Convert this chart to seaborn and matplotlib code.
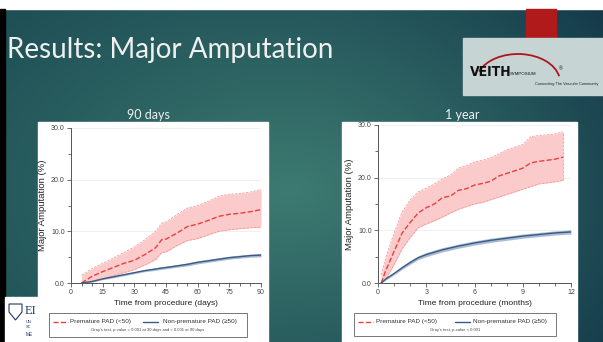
import numpy as np
import pandas as pd
import matplotlib
matplotlib.use("Agg")
import matplotlib.pyplot as plt
import seaborn as sns
from matplotlib.patches import Rectangle, Polygon, Arc
from matplotlib.lines import Line2D
from matplotlib.ticker import MultipleLocator, FormatStrFormatter

# ---------------- data ----------------
t90 = [5, 10, 15, 20, 25, 30, 35, 40, 43, 45, 50, 55, 60, 65, 70, 75, 80, 85, 90]
prem90 = [0, 1.3, 2.2, 3.0, 3.8, 4.4, 5.5, 6.8, 8.4, 8.5, 9.6, 10.9, 11.4, 12.1, 12.9, 13.3, 13.5, 13.8, 14.2]
prem90_hi = [1.5, 2.8, 3.8, 4.8, 5.9, 7.0, 8.4, 10.0, 11.6, 11.8, 13.2, 14.5, 15.0, 15.8, 16.8, 17.2, 17.3, 17.6, 18.1]
prem90_lo = [0, 0.3, 0.8, 1.4, 2.0, 2.6, 3.5, 4.5, 5.9, 6.0, 7.2, 8.2, 8.6, 9.3, 10.0, 10.3, 10.5, 10.7, 10.8]
non90 = [0, 0.3, 0.8, 1.2, 1.6, 2.0, 2.4, 2.7, 2.9, 3.0, 3.3, 3.6, 4.0, 4.3, 4.6, 4.9, 5.1, 5.3, 5.4]
non90_hi = [0.1, 0.45, 0.95, 1.4, 1.8, 2.2, 2.6, 2.95, 3.15, 3.25, 3.55, 3.9, 4.3, 4.6, 4.9, 5.2, 5.4, 5.6, 5.75]
non90_lo = [0, 0.15, 0.65, 1.0, 1.4, 1.8, 2.2, 2.45, 2.65, 2.75, 3.05, 3.3, 3.7, 4.0, 4.3, 4.6, 4.8, 5.0, 5.05]

t12 = [0.2, 0.5, 1, 1.5, 2, 2.5, 3, 3.5, 4, 4.5, 5, 5.5, 6, 6.5, 7, 7.5, 8, 8.5, 9, 9.5, 10, 11, 11.5]
prem12 = [0, 2.5, 6, 9.5, 11.5, 13.3, 14.3, 15, 16.2, 16.5, 17.6, 17.9, 18.6, 18.9, 19.3, 20.3, 20.8, 21.3, 21.8, 22.8, 23.1, 23.5, 23.9]
prem12_hi = [1.5, 5, 9.5, 13.5, 15.8, 17.3, 18, 18.8, 19.8, 20.5, 21.8, 22.3, 23, 23.3, 23.8, 24.5, 25.3, 25.8, 26.3, 27.8, 28, 28.3, 28.7]
prem12_lo = [0, 0.8, 3.5, 6.5, 8.6, 10.5, 11.2, 11.8, 12.5, 13.3, 14, 14.5, 15, 15.3, 15.8, 16.3, 16.8, 17.3, 17.8, 18.3, 18.8, 19.2, 19.5]
t12b = [0.2, 0.5, 1, 1.5, 2, 2.5, 3, 4, 5, 6, 7, 8, 9, 10, 11, 12]
non12 = [0, 0.8, 1.8, 2.9, 3.9, 4.8, 5.4, 6.3, 7.0, 7.6, 8.1, 8.5, 8.9, 9.2, 9.5, 9.7]
non12_hi = [0.1, 1.0, 2.05, 3.2, 4.25, 5.15, 5.8, 6.7, 7.4, 8.0, 8.5, 8.9, 9.3, 9.6, 9.9, 10.1]
non12_lo = [0, 0.6, 1.55, 2.6, 3.55, 4.45, 5.0, 5.9, 6.6, 7.2, 7.7, 8.1, 8.5, 8.8, 9.1, 9.3]

title_text = "Results: Major Amputation"
sub_left = "90 days"
sub_right = "1 year"
label_prem = "Premature PAD (<50)"
label_non = "Non-premature PAD (\u226550)"
pval_left = "Gray's test, p-value = 0.001 at 30 days and < 0.001 at 90 days"
pval_right = "Gray's test, p-value < 0.001"
ylab = "Major Amputation (%)"
xlab_left = "Time from procedure (days)"
xlab_right = "Time from procedure (months)"

# ---------------- figure ----------------
sns.set_theme(style="white")
plt.rcParams['font.family'] = ['Liberation Sans', 'DejaVu Sans']

W, H = 603, 342
fig = plt.figure(figsize=(W / 100, H / 100), dpi=100)

def fx(x):
    return x / W

def fy(y):
    return 1 - y / H

# background gradient
bg = fig.add_axes([0, 0, 1, 1], zorder=-10)
yy, xx = np.mgrid[0:H, 0:W]
cx, cy = 290, 190
d = np.sqrt(((xx - cx) / 330) ** 2 + ((yy - cy) / 230) ** 2)
d = np.clip(d, 0, 1.3) / 1.3
c_center = np.array([0x3d, 0x7b, 0x71]) / 255
c_edge_l = np.array([0x1a, 0x4a, 0x52]) / 255
c_edge_r = np.array([0x12, 0x36, 0x48]) / 255
side = np.clip(xx / W, 0, 1)[..., None]
edge = c_edge_l * (1 - side) + c_edge_r * side
img = c_center * (1 - d[..., None]) + edge * d[..., None]
bg.imshow(img, extent=[0, W, H, 0], aspect='auto')
bg.set_xlim(0, W)
bg.set_ylim(H, 0)
bg.axis('off')
# top white band and left black strip
bg.add_patch(Rectangle((0, 0), W, 9, color='white'))
bg.add_patch(Rectangle((0, 9), 5, H - 9, color='black'))
# red block
bg.add_patch(Rectangle((526, 9), 30, 31, color='#b01a1a'))
# VEITH logo box
bg.add_patch(Rectangle((463, 38), 140, 57, color='#c6d4d3'))
bg.add_patch(Arc((518, 82), 84, 56, theta1=195, theta2=352, color='#b0141c', lw=1.3))
bg.text(470, 72, "VEITH", fontsize=10, fontweight='bold', color='#111',
        family=['DejaVu Sans'], va='center', ha='left', stretch='condensed')
bg.text(510, 74, "SYMPOSIUM", fontsize=3.2, color='#111', va='center', ha='left')
bg.text(559, 69, "\u00ae", fontsize=3.5, color='#111', va='center')
bg.text(598, 84, "Connecting The Vascular Community", fontsize=2.8, color='#222',
        va='center', ha='right')

# Emory-like logo (partially covered)
bg.add_patch(Rectangle((5, 297), 45, 45, color='white'))
bg.add_patch(Polygon([[9, 304], [22, 304], [22, 312], [15.5, 320], [9, 312]],
                     closed=True, fill=False, ec='#1f3a6b', lw=0.8))
bg.text(25, 311, "EI", fontsize=9, color='#1f3a6b', family=['Liberation Serif'], va='center')
bg.text(26, 322, "UN", fontsize=2.8, color='#1f3a6b', va='center')
bg.text(26, 327, "SC", fontsize=2.8, color='#1f3a6b', va='center')
bg.text(26, 335, "ME", fontsize=3.5, color='#1f3a6b', va='center')

# title and subtitles
bg.text(7, 50, title_text, fontsize=20, color='#f0f0f0', family=['Lato', 'DejaVu Sans'],
        va='center', ha='left')
bg.text(148, 115, sub_left, fontsize=9, color='#f0f0f0', family=['Lato', 'DejaVu Sans'],
        va='center', ha='center')
bg.text(462, 115, sub_right, fontsize=9, color='#f0f0f0', family=['Lato', 'DejaVu Sans'],
        va='center', ha='center')

# white panels
bg.add_patch(Rectangle((38, 122), 230, 220, color='white'))
bg.add_patch(Rectangle((342, 122), 235, 220, color='white'))

RED = '#e8403f'
RED_FILL = '#fbcaca'
RED_EDGE = '#f29090'
BLUE = '#3d5b82'
BLUE_FILL = '#a8bbd2'

def style_axis(ax, xmax, xmajor, xminor, xlabel):
    ax.set_facecolor('white')
    ax.set_xlim(0, xmax)
    ax.set_ylim(0, 30)
    for s in ['top', 'right']:
        ax.spines[s].set_visible(False)
    for s in ['left', 'bottom']:
        ax.spines[s].set_color('#555555')
        ax.spines[s].set_linewidth(0.7)
    ax.xaxis.set_major_locator(MultipleLocator(xmajor))
    ax.xaxis.set_minor_locator(MultipleLocator(xminor))
    ax.yaxis.set_major_locator(MultipleLocator(10))
    ax.yaxis.set_minor_locator(MultipleLocator(5))
    ax.yaxis.set_major_formatter(FormatStrFormatter('%.1f'))
    ax.tick_params(which='both', direction='out', color='#555555', width=0.6,
                   labelsize=5, labelcolor='#444444', bottom=True, left=True)
    ax.tick_params(which='major', length=3, pad=1.5)
    ax.tick_params(which='minor', length=2)
    for v in [10, 20, 30]:
        ax.axhline(v, color='#eeeeee', lw=0.6, zorder=0)
    ax.set_xlabel(xlabel, fontsize=6, color='#222222', labelpad=3)
    ax.set_ylabel(ylab, fontsize=6.8, color='#222222', labelpad=3)
    ax.grid(False)

# ---- left: 90 days ----
ax1 = fig.add_axes([fx(71), fy(283), fx(261) - fx(71), fy(128) - fy(283)])
ax1.fill_between(t90, prem90_lo, prem90_hi, color=RED_FILL, lw=0, zorder=1)
ax1.plot(t90, prem90_hi, color=RED_EDGE, lw=0.5, ls='--', zorder=2)
ax1.plot(t90, prem90_lo, color=RED_EDGE, lw=0.5, ls='--', zorder=2)
ax1.fill_between(t90, non90_lo, non90_hi, color=BLUE_FILL, lw=0, zorder=1)
sns.lineplot(x=t90, y=prem90, ax=ax1, color=RED, lw=1.0, linestyle='--', zorder=3)
sns.lineplot(x=t90, y=non90, ax=ax1, color=BLUE, lw=1.0, zorder=3)
style_axis(ax1, 90, 15, 5, xlab_left)

# ---- right: 1 year ----
ax2 = fig.add_axes([fx(378), fy(283), fx(571) - fx(378), fy(125) - fy(283)])
ax2.fill_between(t12, prem12_lo, prem12_hi, color=RED_FILL, lw=0, zorder=1)
ax2.plot(t12, prem12_hi, color=RED_EDGE, lw=0.5, ls='--', zorder=2)
ax2.plot(t12, prem12_lo, color=RED_EDGE, lw=0.5, ls='--', zorder=2)
ax2.plot([t12[-1], t12[-1]], [prem12_lo[-1], prem12_hi[-1]], color=RED_EDGE, lw=0.5, ls='--', zorder=2)
ax2.fill_between(t12b, non12_lo, non12_hi, color=BLUE_FILL, lw=0, zorder=1)
sns.lineplot(x=t12, y=prem12, ax=ax2, color=RED, lw=1.0, linestyle='--', zorder=3)
sns.lineplot(x=t12b, y=non12, ax=ax2, color=BLUE, lw=1.0, zorder=3)
style_axis(ax2, 12, 3, 1, xlab_right)

# ---- legends ----
def legend_box(x0, x1, y0, y1, h1x, t1x, h2x, t2x, ptext):
    bg.add_patch(Rectangle((x0, y0), x1 - x0, y1 - y0, fill=False, ec='#777777', lw=0.7, zorder=5))
    bg.add_line(Line2D([h1x, h1x + 15], [322, 322], color=RED, lw=1.0, ls='--', zorder=6))
    bg.text(t1x, 322, label_prem, fontsize=4.6, color='#333333', va='center', ha='left', zorder=6)
    bg.add_line(Line2D([h2x, h2x + 15], [322, 322], color=BLUE, lw=1.0, zorder=6))
    bg.text(t2x, 322, label_non, fontsize=4.6, color='#333333', va='center', ha='left', zorder=6)
    bg.text((x0 + x1) / 2, 330.5, ptext, fontsize=3.0, color='#444444', va='center', ha='center', zorder=6)

legend_box(49, 247, 313, 337, 53, 70, 143, 163, pval_left)
legend_box(354, 556, 313, 336, 358, 376, 455, 473, pval_right)

fig.savefig("out.png", dpi=100)
